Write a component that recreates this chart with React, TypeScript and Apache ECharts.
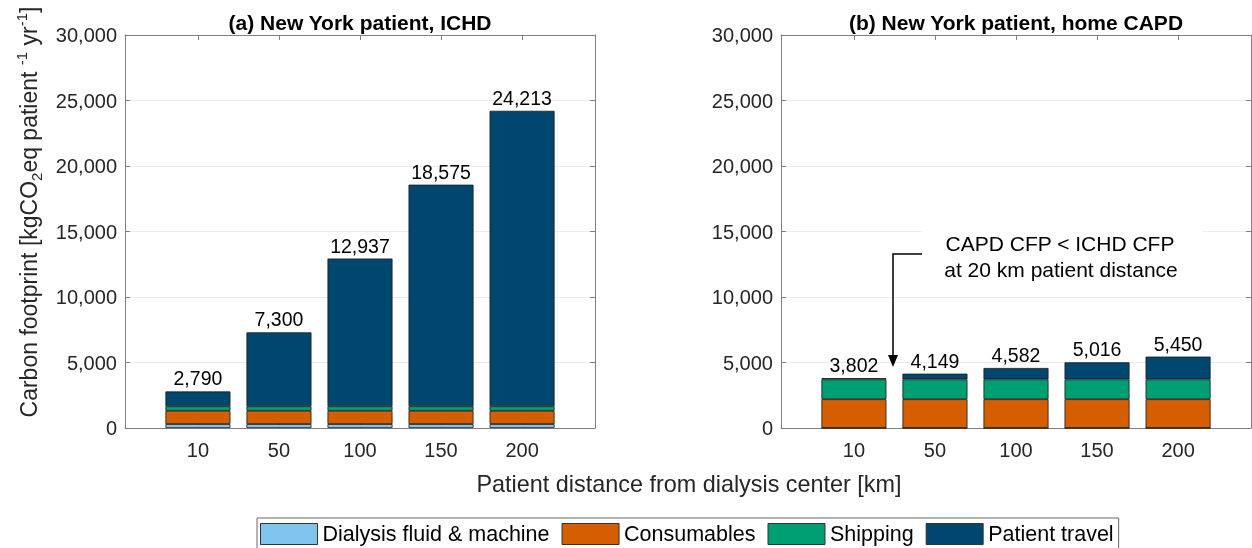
import React, { useEffect, useRef } from 'react';
import * as echarts from 'echarts';

const distances = ['10', '50', '100', '150', '200'];
const xPositions = [1, 2, 3, 4, 5];
const seriesNames = ['Dialysis fluid & machine', 'Consumables', 'Shipping', 'Patient travel'];
const colors = ['#7fc4ec', '#d55e00', '#009e73', '#00476f'];

// (a) ICHD
const ichdFluid = [300, 300, 300, 300, 300];
const ichdConsumables = [1010, 1010, 1010, 1010, 1010];
const ichdShipping = [352.5, 352.5, 352.5, 352.5, 352.5];
const ichdTravel = [1127.5, 5637.5, 11274.5, 16912.5, 22550.5];
const ichdTotals = [2790, 7300, 12937, 18575, 24213];

// (b) home CAPD
const capdFluid = [0, 0, 0, 0, 0];
const capdConsumables = [2200, 2200, 2200, 2200, 2200];
const capdShipping = [1515, 1515, 1515, 1515, 1515];
const capdTravel = [87, 434, 867, 1301, 1735];
const capdTotals = [3802, 4149, 4582, 5016, 5450];

const yMin = 0;
const yMax = 30000;
const yStep = 5000;
const xMin = 0.1;
const xMax = 5.9;

const FONT = '"Liberation Sans", Arial, Helvetica, sans-serif';
const FRAME = '#808080';
const fmt = (v: number) => Math.round(v).toLocaleString('en-US');

// panel frame geometry (pixels)
const PANEL_LEFT = [125, 781];
const PANEL_TOP = 35;
const PANEL_W = 470;
const PANEL_H = 393;
const UNIT = PANEL_W / (xMax - xMin);

function frameAxes(p: number) {
  const g = p * 2;
  const xBase = {
    gridIndex: g,
    type: 'value' as const,
    min: xMin,
    max: xMax,
    splitLine: { show: false },
    axisLine: { show: true, onZero: false, lineStyle: { color: FRAME, width: 1 } },
    axisTick: { show: true, inside: true, length: 5, customValues: xPositions, lineStyle: { color: FRAME } },
  };
  const yBase = {
    gridIndex: g,
    type: 'value' as const,
    min: yMin,
    max: yMax,
    interval: yStep,
    axisLine: { show: true, onZero: false, lineStyle: { color: FRAME, width: 1 } },
    axisTick: { show: true, inside: true, length: 5, lineStyle: { color: FRAME } },
  };
  return {
    x: [
      {
        ...xBase,
        position: 'bottom',
        axisLabel: {
          customValues: xPositions,
          formatter: (v: number) => distances[Math.round(v) - 1] ?? '',
          fontSize: 20,
          color: '#262626',
          fontFamily: FONT,
          margin: 12,
        },
      },
      { ...xBase, position: 'top', axisLabel: { show: false } },
      {
        gridIndex: g + 1,
        type: 'category' as const,
        data: distances,
        show: false,
      },
    ],
    y: [
      {
        ...yBase,
        position: 'left',
        axisLabel: { formatter: (v: number) => fmt(v), fontSize: 20, color: '#262626', fontFamily: FONT, margin: 8 },
        splitLine: { show: true, lineStyle: { color: '#ebebeb', width: 1 } },
      },
      { ...yBase, position: 'right', axisLabel: { show: false }, splitLine: { show: false } },
      {
        gridIndex: g + 1,
        type: 'value' as const,
        min: yMin,
        max: yMax,
        show: false,
        splitLine: { show: false },
      },
    ],
  };
}

function makeSeries(p: number, stacks: number[][], totals: number[]) {
  return stacks.map((vals, i) => ({
    type: 'bar',
    name: seriesNames[i],
    xAxisIndex: p * 3 + 2,
    yAxisIndex: p * 3 + 2,
    stack: 'panel' + p,
    barWidth: 65,
    data: vals,
    itemStyle: { color: colors[i], borderColor: '#1a1a1a', borderWidth: 0.8 },
    label:
      i === stacks.length - 1
        ? {
            show: true,
            position: 'top',
            distance: 3,
            fontSize: 19.5,
            color: '#000',
            fontFamily: FONT,
            formatter: (q: any) => fmt(totals[q.dataIndex]),
          }
        : { show: false },
  }));
}

export default function App() {
  const ref = useRef<HTMLDivElement>(null);
  useEffect(() => {
    if (!ref.current) return;
    const chart = echarts.init(ref.current, undefined, { renderer: 'svg' });
    const a0 = frameAxes(0);
    const a1 = frameAxes(1);
    const grids: any[] = [];
    PANEL_LEFT.forEach((l) => {
      grids.push({ left: l, top: PANEL_TOP, width: PANEL_W, height: PANEL_H, show: false });
      const barLeft = l + (1 - 0.5 - xMin) * UNIT;
      grids.push({ left: barLeft, top: PANEL_TOP, width: UNIT * distances.length, height: PANEL_H, show: false });
    });
    chart.setOption({
      animation: false,
      textStyle: { fontFamily: FONT },
      grid: grids,
      xAxis: [...a0.x, ...a1.x],
      yAxis: [...a0.y, ...a1.y],
      legend: {
        data: seriesNames,
        left: 257,
        top: 518,
        orient: 'horizontal',
        padding: [5, 5, 5, 3],
        itemGap: 12,
        itemWidth: 57,
        itemHeight: 21,
        icon: 'rect',
        borderColor: '#666',
        borderWidth: 1,
        itemStyle: { borderColor: '#333', borderWidth: 1 },
        textStyle: { fontSize: 21.5, color: '#000', fontFamily: FONT },
        selectedMode: false,
      },
      series: [
        ...makeSeries(0, [ichdFluid, ichdConsumables, ichdShipping, ichdTravel], ichdTotals),
        ...makeSeries(1, [capdFluid, capdConsumables, capdShipping, capdTravel], capdTotals),
      ],
      graphic: [
        {
          type: 'text',
          x: 360,
          y: 22,
          style: { text: '(a) New York patient, ICHD', font: `bold 21px ${FONT}`, fill: '#000', align: 'center', verticalAlign: 'middle' },
        },
        {
          type: 'text',
          x: 1016,
          y: 22,
          style: { text: '(b) New York patient, home CAPD', font: `bold 21px ${FONT}`, fill: '#000', align: 'center', verticalAlign: 'middle' },
        },
        {
          type: 'text',
          x: 689,
          y: 484,
          style: { text: 'Patient distance from dialysis center [km]', font: `23.4px ${FONT}`, fill: '#262626', align: 'center', verticalAlign: 'middle' },
        },
        {
          type: 'text',
          x: 29,
          y: 212,
          rotation: Math.PI / 2,
          style: {
            text: '{a|Carbon footprint [kgCO}{b|2}{a|eq patient }{c|-1}{a| yr}{c|-1}{a|]}',
            align: 'center',
            verticalAlign: 'middle',
            fill: '#262626',
            rich: {
              a: { fontSize: 23, fontFamily: FONT, fill: '#262626', lineHeight: 30 },
              b: { fontSize: 15, fontFamily: FONT, fill: '#262626', lineHeight: 15, verticalAlign: 'bottom' },
              c: { fontSize: 15, fontFamily: FONT, fill: '#262626', lineHeight: 15, verticalAlign: 'top' },
            },
          },
        },
        {
          type: 'rect',
          z: 10,
          shape: { x: 922, y: 226, width: 281, height: 56 },
          style: { fill: '#fff' },
        },
        {
          type: 'text',
          z: 11,
          x: 1060,
          y: 243,
          style: { text: 'CAPD CFP < ICHD CFP', font: `21px ${FONT}`, fill: '#000', align: 'center', verticalAlign: 'middle' },
        },
        {
          type: 'text',
          z: 11,
          x: 1061,
          y: 269,
          style: { text: 'at 20 km patient distance', font: `21px ${FONT}`, fill: '#000', align: 'center', verticalAlign: 'middle' },
        },
        {
          type: 'polyline',
          z: 11,
          shape: { points: [[922, 254], [893, 254], [893, 357]] },
          style: { stroke: '#000', lineWidth: 1.5, fill: null },
        },
        {
          type: 'polygon',
          z: 11,
          shape: { points: [[888, 355], [898, 355], [893, 367]] },
          style: { fill: '#000' },
        },
      ],
    });
    return () => chart.dispose();
  }, []);
  return <div ref={ref} style={{ position: 'fixed', left: 0, top: 0, width: 1252, height: 548 }} />;
}
